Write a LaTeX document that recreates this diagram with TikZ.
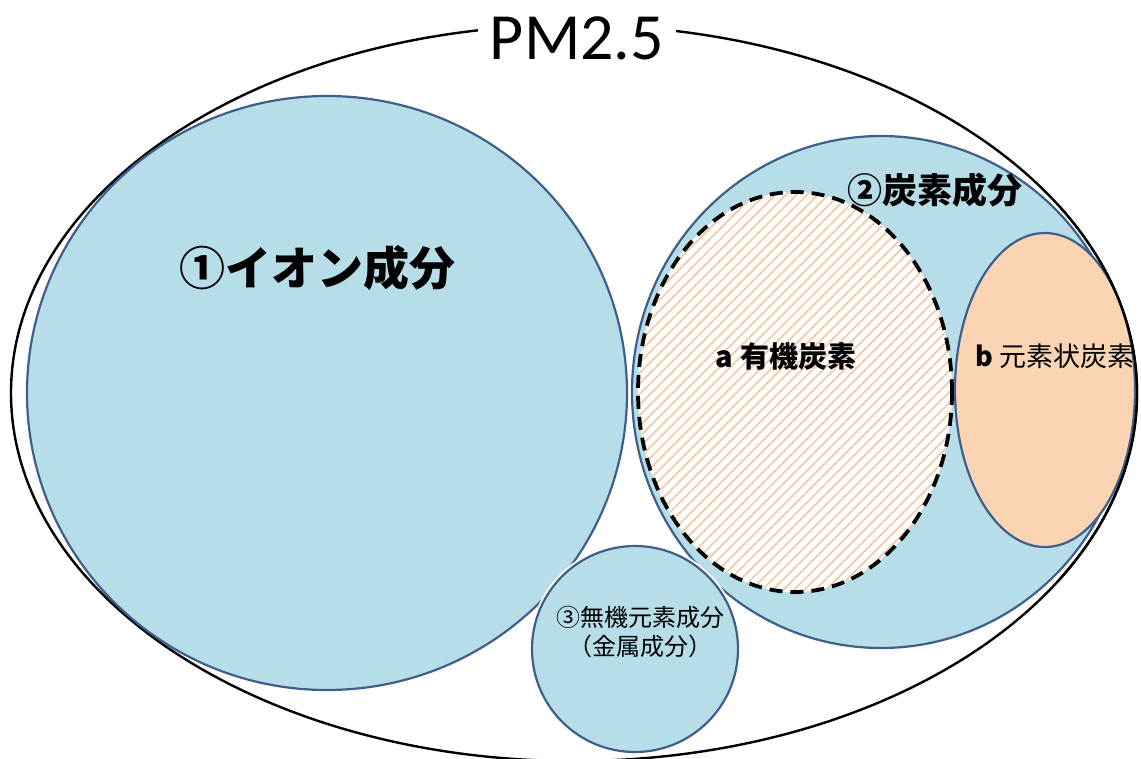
\documentclass[tikz,border=0pt]{standalone}
\usepackage{fontspec}
\setmainfont{Carlito}
\newfontfamily\jp{Noto Sans CJK JP}
\usetikzlibrary{patterns.meta}
\definecolor{pmblue}{HTML}{B7DDE8}
\definecolor{pmedge}{HTML}{3F5F8A}
\definecolor{pmpeach}{HTML}{FBD4B4}
\definecolor{pmstripe}{HTML}{F6C8A6}
\tikzset{
  comp/.style={fill=pmblue, draw=pmedge, line width=2.2pt},
  halo/.style={draw=white, line width=6pt},
  outerline/.style={line width=2.4pt, black},
  lab/.style={font=\jp, text=black, inner sep=0pt, align=center}
}
\begin{document}
\begin{tikzpicture}[x=1pt,y=-1pt]
\useasboundingbox (0,0) rectangle (1141,758);
% outer ellipse
\draw[outerline] (574,393) ellipse [x radius=563, y radius=368];
\node[fill=white, inner xsep=12pt, inner ysep=2pt, font=\fontsize{66}{70}\selectfont] (pm) at (577,38) {PM2.5};
% component 1
\path[comp] (327,393) ellipse [x radius=300, y radius=297];
\node[lab, font=\jp\bfseries\fontsize{46}{50}\selectfont] (ion) at (317,268) {①イオン成分};
% component 2
\path[halo] (881,392) ellipse [x radius=249, y radius=256];
\path[comp] (881,392) ellipse [x radius=249, y radius=256];
\node[lab, font=\jp\bfseries\fontsize{35}{38}\selectfont] (carb) at (935,190) {②炭素成分};
% a organic carbon
\fill[white] (795,392) ellipse [x radius=157, y radius=200];
\fill[pattern={Lines[angle=45, distance=7.5pt, line width=1.7pt]}, pattern color=pmstripe] (795,392) ellipse [x radius=157, y radius=200];
\draw[black, line width=3.8pt, dash pattern=on 13pt off 8pt] (795,392) ellipse [x radius=157, y radius=200];
\node[lab, font=\jp\bfseries\fontsize{29}{32}\selectfont] (oc) at (786,357) {a 有機炭素};
% b elemental carbon
\path[fill=pmpeach, draw=pmedge, line width=2.2pt] (1045,390) ellipse [x radius=90, y radius=157];
\node[lab, font=\jp\fontsize{27}{30}\selectfont] (ec) at (1055,356) {\textbf{b} 元素状炭素};
% outer line visible over the right-hand shapes
\begin{scope}
  \clip (1060,0) rectangle (1141,758);
  \draw[outerline] (574,393) ellipse [x radius=563, y radius=368];
\end{scope}
% component 3
\path[halo] (635,649) circle [radius=103];
\path[comp] (635,649) circle [radius=103];
\node[lab, font=\jp\fontsize{24}{29}\selectfont] (inorg) at (640,632) {③無機元素成分\\（金属成分）};
\end{tikzpicture}
\end{document}
